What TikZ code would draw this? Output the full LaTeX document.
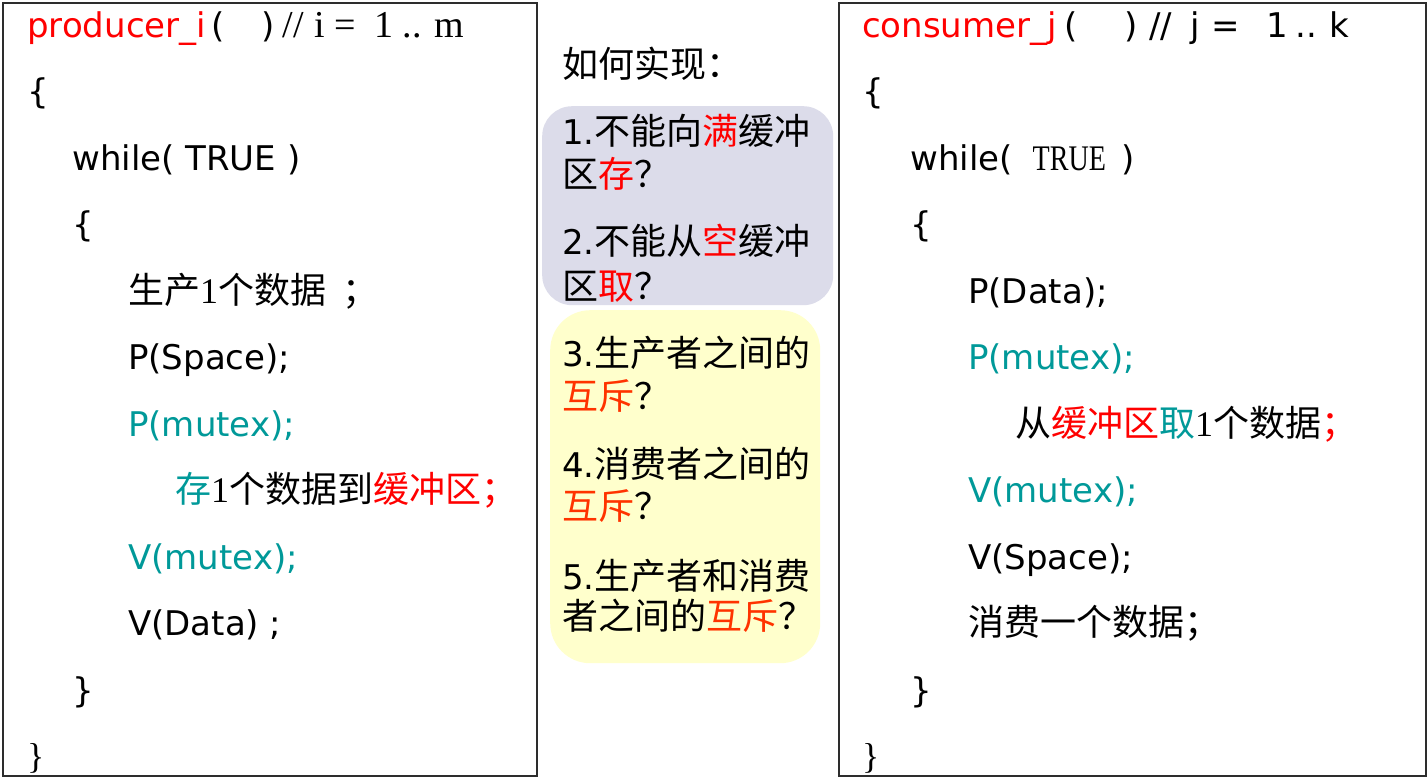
\documentclass[tikz,border=0pt]{standalone}
\usepackage{fontspec}
\usepackage{graphicx}
\setmainfont{DejaVu Sans}
\newfontfamily\cjk{Noto Sans CJK SC}
\newfontfamily\ser{Liberation Serif}
\definecolor{tealc}{RGB}{0,153,153}
\definecolor{redc}{RGB}{255,0,0}
\definecolor{redor}{RGB}{255,51,0}
\definecolor{grayfill}{RGB}{220,220,234}
\definecolor{yellowfill}{RGB}{255,255,204}
\definecolor{boxline}{RGB}{45,45,45}
\newcommand{\C}[1]{{\cjk\fontsize{36}{40}\selectfont #1}}
\newcommand{\Sr}[1]{{\ser\fontsize{36}{40}\selectfont #1}}
\newcommand{\R}[1]{\textcolor{redc}{#1}}
\newcommand{\Ro}[1]{\textcolor{redor}{#1}}
\newcommand{\T}[1]{\textcolor{tealc}{#1}}
\tikzset{
  ln/.style={anchor=base west, inner sep=0pt, font=\fontsize{34}{40}\selectfont},
  frame/.style={draw=boxline, line width=2pt, anchor=north west, inner sep=0pt},
  pill/.style={anchor=north west, inner sep=0pt}
}
\begin{document}
\begin{tikzpicture}[x=1pt,y=-1pt]
\useasboundingbox (0,0) rectangle (1427,777);
\fill[white] (0,0) rectangle (1427,777);
% frames
\node[frame, minimum width=534pt, minimum height=773pt] (lbox) at (2,2) {};
\node[frame, minimum width=587pt, minimum height=773pt] (rbox) at (838,2) {};
% middle rounded boxes
\node[pill, fill=grayfill, rounded corners=30pt, minimum width=291pt, minimum height=199pt] (gbox) at (542,106) {};
\node[pill, fill=yellowfill, rounded corners=40pt, minimum width=270pt, minimum height=353pt] (ybox) at (550,310) {};

% left code
\node[ln] (l0) at (27,37) {\R{producer\_i}\hspace{6pt}(\hspace{36pt})\hspace{8pt}{\ser\fontsize{38}{40}\selectfont //\hspace{11pt}i =\hspace{18pt}1 .. m}};
\node[ln] (l1) at (27,103.5) {\{};
\node[ln] (l2) at (72,170) {while( TRUE )};
\node[ln] (l3) at (72,236.5) {\{};
\node[ln] (l4) at (128,303) {\C{生产}\Sr{1}\C{个数据}\hspace{16pt}\C{；}};
\node[ln] (l5) at (128,369.5) {P(Space);};
\node[ln] (l6) at (128,436) {\T{P(mutex);}};
\node[ln] (l7) at (175,502.5) {\T{\C{存}}\Sr{1}\C{个数据到}\R{\C{缓冲区；}}};
\node[ln] (l8) at (128,569) {\T{V(mutex);}};
\node[ln] (l9) at (128,635.5) {V(Data) ;};
\node[ln] (l10) at (72,702) {\}};
\node[ln] (l11) at (27,768.5) {\Sr{\}}};

% middle
\node[ln] (m0) at (562,77) {\C{如何实现：}};
\node[ln] (m1) at (562,144) {1.\C{不能向}\R{\C{满}}\C{缓冲}};
\node[ln] (m2) at (562,187) {\C{区}\R{\C{存}}\C{？}};
\node[ln] (m3) at (562,254) {2.\C{不能从}\R{\C{空}}\C{缓冲}};
\node[ln] (m4) at (562,299) {\C{区}\R{\C{取}}\C{？}};
\node[ln] (m5) at (562,366) {3.\C{生产者之间的}};
\node[ln] (m6) at (562,409) {\Ro{\C{互斥}}\C{？}};
\node[ln] (m7) at (562,477) {4.\C{消费者之间的}};
\node[ln] (m8) at (562,519) {\Ro{\C{互斥}}\C{？}};
\node[ln] (m9) at (562,589) {5.\C{生产者和消费}};
\node[ln] (m10) at (562,629) {\C{者之间的}\Ro{\C{互斥}}\C{？}};

% right code
\node[ln] (r0) at (862,37) {\R{consumer\_j}\hspace{8pt}(\hspace{46pt})\hspace{12pt}//\hspace{18pt}j\hspace{12pt}=\hspace{26pt}1\hspace{8pt}..\hspace{12pt}k};
\node[ln] (r1) at (862,103.5) {\{};
\node[ln] (r2) at (910,170) {while(\hspace{20pt}\Sr{\scalebox{0.78}[1]{TRUE}}\hspace{16pt})};
\node[ln] (r3) at (910,236.5) {\{};
\node[ln] (r4) at (968,303) {P(Data);};
\node[ln] (r5) at (968,369.5) {\T{P(mutex);}};
\node[ln] (r6) at (1015,436) {\C{从}\R{\C{缓冲区}}\T{\C{取}}\Sr{1}\C{个数据}\R{\C{；}}};
\node[ln] (r7) at (968,502.5) {\T{V(mutex);}};
\node[ln] (r8) at (968,569) {V(Space);};
\node[ln] (r9) at (968,635.5) {\C{消费一个数据；}};
\node[ln] (r10) at (910,702) {\}};
\node[ln] (r11) at (862,768.5) {\Sr{\}}};
\end{tikzpicture}
\end{document}
